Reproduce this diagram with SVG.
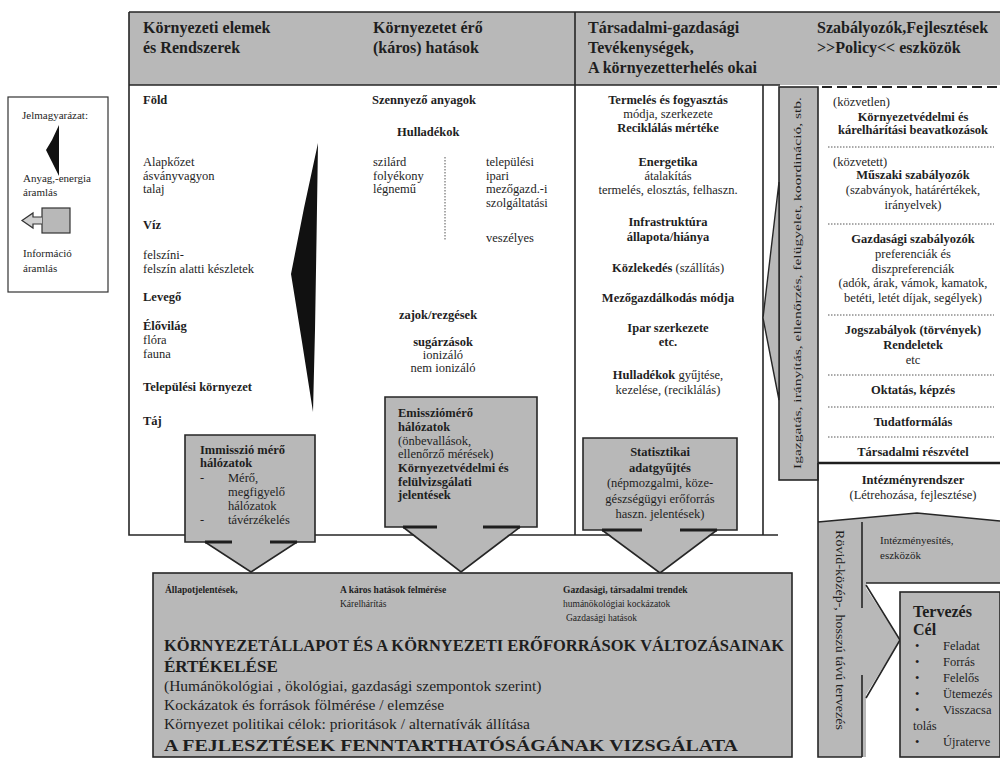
<svg xmlns="http://www.w3.org/2000/svg" width="1000" height="760" viewBox="0 0 1000 760" font-family="Liberation Serif, serif">
<defs>
<style>
text{font-family:"Liberation Serif","Times New Roman",serif;fill:#1e1e1e;font-size:12.5px}
.b{font-weight:bold}
.h{font-size:16px;font-weight:bold}
.m{text-anchor:middle}
.s{font-size:11px}
.xs{font-size:9.5px}
.g{fill:#b8b8b8}
.ln{stroke:#262626;stroke-width:1.6;fill:none}
.thk{stroke:#1e1e1e;stroke-width:3;fill:none}
.dot{stroke:#555;stroke-width:1;stroke-dasharray:1.5,1.5}
</style>
</defs>
<rect width="1000" height="760" fill="#fff"/>

<!-- header band -->
<g id="header">
<rect x="129" y="12" width="871" height="73" class="g"/>
<path class="ln" d="M129,12 H1000 M129,12 V85 M575,12 V85 M129,85 H780"/>
<path d="M822,87 H1000" stroke="#222" stroke-width="2" stroke-dasharray="10,5"/>
<text class="h" x="143" y="33">Környezeti elemek</text>
<text class="h" x="143" y="53">és Rendszerek</text>
<text class="h" x="373" y="33">Környezetet érő</text>
<text class="h" x="373" y="53">(káros) hatások</text>
<text class="h" x="588" y="33">Társadalmi-gazdasági</text>
<text class="h" x="588" y="53">Tevékenységek,</text>
<text class="h" x="588" y="73">A környezetterhelés okai</text>
<text class="h" x="817" y="33">Szabályozók,Fejlesztések</text>
<text class="h" x="817" y="53">&gt;&gt;Policy&lt;&lt; eszközök</text>
</g>

<!-- legend -->
<g id="legend">
<rect x="8" y="97" width="100" height="195" fill="#fff" stroke="#333" stroke-width="1.2"/>
<text class="s" x="22" y="119">Jelmagyarázat:</text>
<polygon points="59,125 52,140 46,150 52,162 59,176" fill="#111"/>
<text class="s" x="23" y="182">Anyag,-energia</text>
<text class="s" x="23" y="196">áramlás</text>
<rect x="42" y="208" width="28" height="25" class="g" stroke="#333" stroke-width="1.2"/>
<path d="M42,217 H33 V213 L22,220.5 L33,228 V224 H42" fill="#d0d0d0" stroke="#333" stroke-width="1.2"/>
<text class="s" x="23" y="257">Információ</text>
<text class="s" x="23" y="272">áramlás</text>
</g>

<!-- frames of the upper area -->
<g id="frames">
<path class="ln" d="M129,85 V535 H778 M575,85 V535 M763,85 V535"/>
</g>

<!-- environmental elements column -->
<g id="elements">
<text class="b" x="143" y="104">Föld</text>
<text x="143" y="166">Alapkőzet</text>
<text x="143" y="179.5">ásványvagyon</text>
<text x="143" y="193">talaj</text>
<text class="b" x="143" y="229">Víz</text>
<text x="143" y="259">felszíni-</text>
<text x="143" y="272.5">felszín alatti készletek</text>
<text class="b" x="143" y="301">Levegő</text>
<text class="b" x="143" y="330">Élővilág</text>
<text x="143" y="344">flóra</text>
<text x="143" y="358">fauna</text>
<text class="b" x="143" y="391">Települési környezet</text>
<text class="b" x="143" y="425">Táj</text>
<polygon points="318,143 304,208 291,274 302,342 313,412 315,330 316.5,240" fill="#111"/>
</g>

<!-- harmful impacts column -->
<g id="impacts">
<text class="b" x="372" y="104">Szennyező anyagok</text>
<text class="b" x="397" y="136">Hulladékok</text>
<text x="373" y="166">szilárd</text>
<text x="373" y="179.5">folyékony</text>
<text x="373" y="193">légnemű</text>
<line class="dot" x1="445" y1="157" x2="445" y2="240"/>
<text x="486" y="166">települési</text>
<text x="486" y="179.5">ipari</text>
<text x="486" y="193">mezőgazd.-i</text>
<text x="486" y="206.5">szolgáltatási</text>
<text x="486" y="242">veszélyes</text>
<text class="b m" x="438" y="319">zajok/rezgések</text>
<text class="b m" x="443" y="346">sugárzások</text>
<text class="m" x="443" y="359">ionizáló</text>
<text class="m" x="443" y="372">nem ionizáló</text>
</g>

<!-- socio-economic activities column -->
<g id="activities">
<text class="b m" x="668" y="104">Termelés és fogyasztás</text>
<text class="m" x="668" y="118">módja, szerkezete</text>
<text class="b m" x="668" y="132">Reciklálás mértéke</text>
<text class="b m" x="668" y="166">Energetika</text>
<text class="m" x="668" y="180">átalakítás</text>
<text class="m" x="668" y="194">termelés, elosztás, felhaszn.</text>
<text class="b m" x="668" y="226">Infrastruktúra</text>
<text class="b m" x="668" y="241">állapota/hiánya</text>
<text class="m" x="668" y="272"><tspan class="b">Közlekedés</tspan> (szállítás)</text>
<text class="b m" x="668" y="302">Mezőgazdálkodás módja</text>
<text class="b m" x="668" y="332">Ipar szerkezete</text>
<text class="b m" x="668" y="346">etc.</text>
<text class="m" x="668" y="379"><tspan class="b">Hulladékok</tspan> gyűjtése,</text>
<text class="m" x="668" y="394">kezelése, (reciklálás)</text>
</g>

<!-- administration bar with left arrow -->
<g id="administration">
<rect x="779" y="87" width="39" height="393" class="g" stroke="#262626" stroke-width="1.6"/>
<polygon points="779,182 763,318 779,400" class="g" stroke="#262626" stroke-width="1.4"/>
<text class="s" transform="translate(801,283) rotate(-90)" text-anchor="middle" textLength="372" lengthAdjust="spacingAndGlyphs">Igazgatás, irányítás, ellenőrzés, felügyelet, koordináció, stb.</text>
</g>

<!-- policy instruments column -->
<g id="policy">
<text x="833" y="106">(közvetlen)</text>
<text class="b m" x="913" y="121">Környezetvédelmi  és</text>
<text class="b m" x="913" y="134">kárelhárítási  beavatkozások</text>
<line class="dot" x1="828" y1="147" x2="994" y2="147"/>
<text x="833" y="166">(közvetett)</text>
<text class="b m" x="913" y="179">Műszaki szabályozók</text>
<text class="m" x="913" y="194">(szabványok, határértékek,</text>
<text class="m" x="913" y="209">irányelvek)</text>
<line class="dot" x1="828" y1="224" x2="994" y2="224"/>
<text class="b m" x="913" y="243">Gazdasági szabályozók</text>
<text class="m" x="913" y="258">preferenciák és</text>
<text class="m" x="913" y="273">diszpreferenciák</text>
<text class="m" x="913" y="287">(adók, árak, vámok, kamatok,</text>
<text class="m" x="913" y="302">betéti, letét díjak, segélyek)</text>
<line class="dot" x1="828" y1="315" x2="994" y2="315"/>
<text class="b m" x="913" y="334">Jogszabályok (törvények)</text>
<text class="b m" x="913" y="349">Rendeletek</text>
<text class="m" x="913" y="364">etc</text>
<line class="dot" x1="828" y1="375" x2="994" y2="375"/>
<text class="b m" x="913" y="394">Oktatás, képzés</text>
<line class="dot" x1="828" y1="407" x2="994" y2="407"/>
<text class="b m" x="913" y="426">Tudatformálás</text>
<line class="dot" x1="828" y1="437" x2="994" y2="437"/>
<text class="b m" x="913" y="456">Társadalmi részvétel</text>
<line x1="818" y1="463" x2="1000" y2="463" stroke="#1e1e1e" stroke-width="2.4"/>
</g>

<!-- institutions -->
<g id="institutions">
<text class="b m" x="913" y="484">Intézményrendszer</text>
<text class="m" x="913" y="499">(Létrehozása, fejlesztése)</text>
<path d="M818,522 L917,513 L1000,521 V583 H866 V757 H818 Z" class="g"/>
<path class="ln" d="M818,463 V757 H862 M818,522 L917,513 L1000,521 M866,583 H1000 M862,522 V608 M862,675 V717 M862,717 V757"/>
<text class="s" x="880" y="544">Intézményesítés,</text>
<text class="s" x="880" y="559">eszközök</text>
<text transform="translate(836,630) rotate(90)" text-anchor="middle" textLength="200" lengthAdjust="spacingAndGlyphs">Rövid-közép-, hosszú távú tervezés</text>
</g>

<!-- planning -->
<g id="planning">
<polygon points="864,585 900,640 864,698" class="g"/>
<path class="ln" d="M866,585 L900,640 L866,698"/>
<rect x="900" y="592" width="100" height="165" class="g" stroke="#262626" stroke-width="1.6"/>
<text class="b" x="913" y="617" style="font-size:16px">Tervezés</text>
<text class="b" x="913" y="635" style="font-size:16px">Cél</text>
<g style="font-size:12px">
<text x="915" y="650">•</text><text x="943" y="650">Feladat</text>
<text x="915" y="666">•</text><text x="943" y="666">Forrás</text>
<text x="915" y="682">•</text><text x="943" y="682">Felelős</text>
<text x="915" y="698">•</text><text x="943" y="698">Ütemezés</text>
<text x="915" y="714">•</text><text x="943" y="714">Visszacsa</text>
<text x="913" y="730">tolás</text>
<text x="915" y="746">•</text><text x="943" y="746">Újraterve</text>
</g>
</g>

<!-- immission networks -->
<g id="immission">
<rect x="185" y="435" width="130" height="107" class="g"/>
<polygon points="205,541 297,541 251,572" class="g"/>
<path class="ln" d="M232,542 H185 V435 H315 V542 H270 M205,542 L251,572 L297,542"/>
<path class="thk" d="M205,542 H232 M270,542 H297"/>
<text class="b" x="200" y="454">Immisszió mérő</text>
<text class="b" x="200" y="467">hálózatok</text>
<text x="200" y="482">-</text><text x="228" y="482">Mérő,</text>
<text x="228" y="496">megfigyelő</text>
<text x="228" y="510">hálózatok</text>
<text x="200" y="524">-</text><text x="228" y="524">távérzékelés</text>
</g>

<!-- emission networks -->
<g id="emission">
<rect x="385" y="397" width="152" height="130" class="g"/>
<polygon points="403,526 520,526 461,572" class="g"/>
<path class="ln" d="M437,527 H385 V397 H537 V527 H483 M403,527 L461,572 L520,527"/>
<path class="thk" d="M403,527 H437 M483,527 H520"/>
<text class="b" x="398" y="417">Emissziómérő</text>
<text class="b" x="398" y="431">hálózatok</text>
<text x="398" y="444.5">(önbevallások,</text>
<text x="398" y="458">ellenőrző mérések)</text>
<text class="b" x="398" y="472">Környezetvédelmi és</text>
<text class="b" x="398" y="485.5">felülvizsgálati</text>
<text class="b" x="398" y="499">jelentések</text>
</g>

<!-- statistics -->
<g id="statistics">
<rect x="583" y="438" width="154" height="92" class="g"/>
<polygon points="602,529 717,529 660,573" class="g"/>
<path class="ln" d="M642,530 H583 V438 H737 V530 H680 M602,530 L660,573 L717,530"/>
<path class="thk" d="M602,530 H642 M680,530 H717"/>
<text class="b m" x="660" y="456">Statisztikai</text>
<text class="b m" x="660" y="471.5">adatgyűjtés</text>
<text class="m" x="660" y="487">(népmozgalmi, köze-</text>
<text class="m" x="660" y="502.5">gészségügyi erőforrás</text>
<text class="m" x="660" y="518">haszn. jelentések)</text>
</g>

<!-- assessment -->
<g id="assessment">
<rect x="153" y="573" width="639" height="184" class="g" stroke="#262626" stroke-width="1.6"/>
<text class="b xs" x="165" y="593">Állapotjelentések,</text>
<text class="b xs" x="340" y="593">A káros hatások felmérése</text>
<text class="xs" x="340" y="607">Kárelhárítás</text>
<text class="b xs" x="563" y="593">Gazdasági, társadalmi trendek</text>
<text class="xs" x="563" y="607">humánökológiai kockázatok</text>
<text class="xs" x="566" y="621">Gazdasági hatások</text>
<text class="b" x="164" y="651" style="font-size:17px" textLength="620" lengthAdjust="spacingAndGlyphs">KÖRNYEZETÁLLAPOT ÉS A KÖRNYEZETI ERŐFORRÁSOK VÁLTOZÁSAINAK</text>
<text class="b" x="164" y="672" style="font-size:17px">ÉRTÉKELÉSE</text>
<text x="164" y="691" style="font-size:15.5px">(Humánökológiai , ökológiai, gazdasági szempontok szerint)</text>
<text x="164" y="710" style="font-size:15.5px">Kockázatok és források fölmérése / elemzése</text>
<text x="164" y="729" style="font-size:15.5px">Környezet politikai célok: prioritások / alternatívák állítása</text>
<text class="b" x="164" y="751" style="font-size:17px" textLength="574" lengthAdjust="spacingAndGlyphs">A FEJLESZTÉSEK FENNTARTHATÓSÁGÁNAK VIZSGÁLATA</text>
</g>
</svg>
